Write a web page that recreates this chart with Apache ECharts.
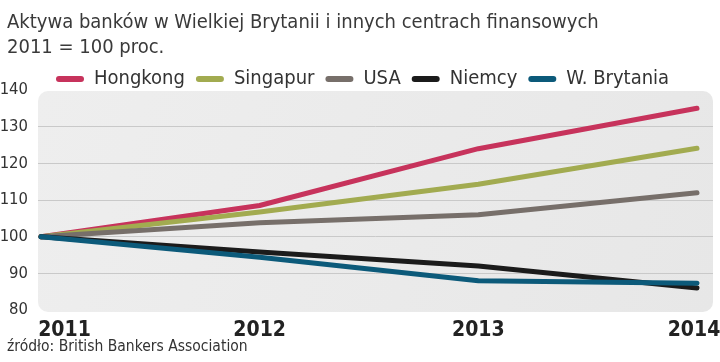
<!DOCTYPE html>
<html>
<head>
<meta charset="utf-8">
<script src="https://cdn.jsdelivr.net/npm/echarts@6/dist/echarts.min.js"></script>
<style>html,body{margin:0;padding:0;background:#fff}#c{width:720px;height:362px}</style>
</head>
<body>
<div id="c"></div>
<script>
var years = [2011, 2012, 2013, 2014];
var yTicks = [80, 90, 100, 110, 120, 130, 140];
var seriesNames = ['Hongkong', 'Singapur', 'USA', 'Niemcy', 'W. Brytania'];
var hongkong = [100, 108.5, 124, 135];
var singapur = [100, 106.7, 114.3, 124.1];
var usa = [100, 103.8, 106, 112];
var niemcy = [100, 95.8, 92, 86];
var wBrytania = [100, 94.4, 88, 87.3];
var seriesValues = [hongkong, singapur, usa, niemcy, wBrytania];
var colors = ['#c7335c', '#a2ab50', '#776f6a', '#1b1b1b', '#0c5a7a'];

var FONT = "'Liberation Sans Narrow','DejaVu Sans Condensed','Liberation Sans',sans-serif";
var chart = echarts.init(document.getElementById('c'), null, {renderer: 'canvas'});

var series = seriesNames.map(function (name, i) {
  return {
    name: name,
    type: 'line',
    data: years.map(function (y, j) { return [y, seriesValues[i][j]]; }),
    symbol: 'none',
    color: colors[i],
    lineStyle: {width: 5, color: colors[i], cap: 'round', join: 'round'},
    z: 3 + i
  };
});

var labelStyle = {fontFamily: FONT, fontSize: 21, fontWeight: 'bold', color: '#222'};

chart.setOption({
  animation: false,
  title: [{
    text: 'Aktywa banków w Wielkiej Brytanii i innych centrach finansowych\n2011 = 100 proc.',
    left: 2, top: 5,
    textStyle: {fontFamily: FONT, fontSize: 20, fontWeight: 'normal', color: '#3a3a3a', lineHeight: 25}
  }, {
    text: 'źródło: British Bankers Association',
    left: 2, bottom: 2,
    textStyle: {fontFamily: FONT, fontSize: 15.5, fontWeight: 'normal', color: '#333'}
  }],
  legend: {
    left: 51, top: 64,
    itemWidth: 28, itemHeight: 6, itemGap: 11,
    icon: 'path://M3,0 L25,0 A3,3 0 0 1 25,6 L3,6 A3,3 0 0 1 3,0 Z',
    textStyle: {fontFamily: FONT, fontSize: 20, color: '#333', padding: [0, 0, 0, 5]},
    data: seriesNames
  },
  graphic: [{
    type: 'rect', z: -10, silent: true,
    shape: {x: 38, y: 91, width: 675, height: 221, r: 10},
    style: {fill: {type: 'linear', x: 0, y: 0, x2: 1, y2: 1,
      colorStops: [{offset: 0, color: '#eeeeee'}, {offset: 1, color: '#e7e7e7'}]}}
  }],
  grid: {
    left: 38, right: 7, top: 90, bottom: 52,
    outerBoundsMode: 'none', containLabel: false,
    show: false
  },
  xAxis: {
    type: 'value',
    min: 2010.9863, max: 2014.0732,
    axisLine: {show: false}, axisTick: {show: false}, splitLine: {show: false},
    axisLabel: {
      customValues: years,
      margin: 10,
      fontFamily: FONT, fontSize: 21, fontWeight: 'bold', color: '#222',
      formatter: function (v) {
        if (v === 2011) return '{f|' + v + '}';
        if (v === 2014) return '{l|' + v + '}';
        return String(v);
      },
      rich: {
        f: Object.assign({padding: [0, 0, 0, 47]}, labelStyle),
        l: Object.assign({padding: [0, 6, 0, 0]}, labelStyle)
      }
    }
  },
  yAxis: {
    type: 'value', min: 80, max: 140, interval: 10,
    axisLine: {show: false}, axisTick: {show: false},
    splitLine: {show: true, showMinLine: false, showMaxLine: false, lineStyle: {color: '#c9c9c9', width: 1}},
    axisLabel: {margin: 10, fontFamily: FONT, fontSize: 16.5, color: '#333'}
  },
  series: series
});
</script>
</body>
</html>
